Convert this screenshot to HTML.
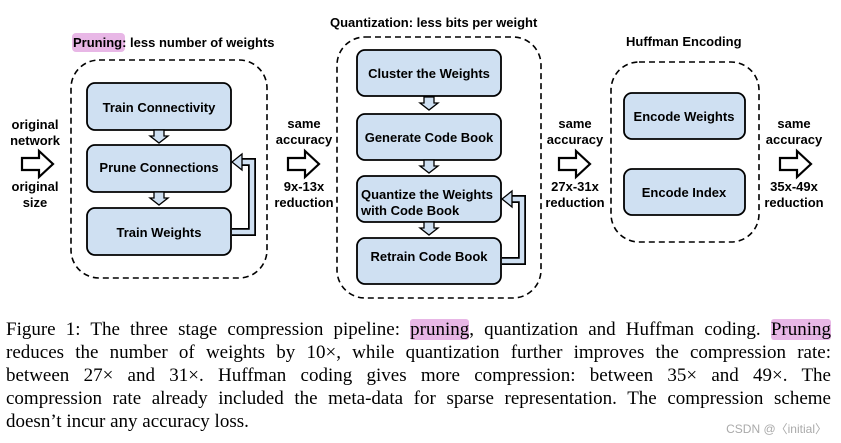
<!DOCTYPE html>
<html><head><style>
body{margin:0;width:841px;height:443px;background:#fff;position:relative;overflow:hidden}
.cap{position:absolute;left:6px;width:825px;font:19px "Liberation Serif",serif;color:#000;text-align:justify;text-align-last:justify;white-space:nowrap;line-height:23px}
.hl{background:#e8b7e6;border-radius:3px}
</style></head><body>
<svg width="841" height="305" style="position:absolute;left:0;top:0" font-family="Liberation Sans, sans-serif" font-weight="bold" font-size="13">
<defs>
<g id="da"><polygon points="-5,0 5,0 5,6 9,6 0,13 -9,6 -5,6" fill="#cfe0f2" stroke="#000" stroke-width="1.3"/></g>
<g id="ba"><polygon points="0,-6 17,-6 17,-13 31,0 17,13 17,6 0,6" fill="#fff" stroke="#000" stroke-width="2.2"/></g>
</defs>
<rect x="71" y="60" width="196" height="218" rx="28" fill="none" stroke="#000" stroke-width="1.6" stroke-dasharray="6,4"/>
<rect x="337" y="37" width="204" height="261" rx="28" fill="none" stroke="#000" stroke-width="1.6" stroke-dasharray="6,4"/>
<rect x="611" y="62" width="148" height="180" rx="28" fill="none" stroke="#000" stroke-width="1.6" stroke-dasharray="6,4"/>
<rect x="72" y="33" width="53" height="19" rx="4" fill="#e8b7e6"/>
<text x="73" y="47">Pruning: less number of weights</text>
<text x="330" y="27">Quantization: less bits per weight</text>
<text x="626" y="46">Huffman Encoding</text>
<g fill="#cfe0f2" stroke="#000" stroke-width="1.8">
<rect x="87" y="83" width="144" height="47" rx="8"/>
<rect x="87" y="145" width="144" height="47" rx="8"/>
<rect x="87" y="208" width="144" height="47" rx="8"/>
<rect x="357" y="50" width="144" height="46" rx="8"/>
<rect x="357" y="114" width="144" height="46" rx="8"/>
<rect x="357" y="176" width="144" height="46" rx="8"/>
<rect x="357" y="238" width="144" height="46" rx="8"/>
<rect x="624" y="93" width="121" height="46" rx="8"/>
<rect x="624" y="169" width="121" height="46" rx="8"/>
</g>
<use href="#da" x="159" y="130"/><use href="#da" x="159" y="192"/>
<use href="#da" x="429" y="97"/><use href="#da" x="429" y="160"/><use href="#da" x="429" y="222"/>
<path d="M232,232 H252 V162 H240" fill="none" stroke="#000" stroke-width="8"/>
<path d="M232,232 H252 V162 H240" fill="none" stroke="#cfe0f2" stroke-width="4.5"/>
<polygon points="232,162 242,154 242,170" fill="#cfe0f2" stroke="#000" stroke-width="1.3"/>
<path d="M502,261 H522 V199 H510" fill="none" stroke="#000" stroke-width="8"/>
<path d="M502,261 H522 V199 H510" fill="none" stroke="#cfe0f2" stroke-width="4.5"/>
<polygon points="502,199 512,191 512,207" fill="#cfe0f2" stroke="#000" stroke-width="1.3"/>
<g text-anchor="middle">
<text x="159" y="112">Train Connectivity</text>
<text x="159" y="172">Prune Connections</text>
<text x="159" y="237">Train Weights</text>
<text x="429" y="78">Cluster the Weights</text>
<text x="429" y="142">Generate Code Book</text>
<text x="429" y="261">Retrain Code Book</text>
<text x="684" y="121">Encode Weights</text>
<text x="684" y="197">Encode Index</text>
<text x="35" y="129">original</text><text x="35" y="145">network</text>
<text x="35" y="191">original</text><text x="35" y="207">size</text>
<text x="304" y="128">same</text><text x="304" y="144">accuracy</text>
<text x="304" y="191">9x-13x</text><text x="304" y="207">reduction</text>
<text x="575" y="128">same</text><text x="575" y="144">accuracy</text>
<text x="575" y="191">27x-31x</text><text x="575" y="207">reduction</text>
<text x="794" y="128">same</text><text x="794" y="144">accuracy</text>
<text x="794" y="191">35x-49x</text><text x="794" y="207">reduction</text>
</g>
<text x="361" y="199">Quantize the Weights</text>
<text x="361" y="215">with Code Book</text>
<use href="#ba" x="22" y="164"/><use href="#ba" x="288" y="164"/>
<use href="#ba" x="559" y="164"/><use href="#ba" x="780" y="164"/>
</svg>
<div class="cap" style="top:318px">Figure 1: The three stage compression pipeline: <span class="hl">pruning</span>, quantization and Huffman coding. <span class="hl">Pruning</span></div>
<div class="cap" style="top:341px">reduces the number of weights by 10×, while quantization further improves the compression rate:</div>
<div class="cap" style="top:364px">between 27× and 31×. Huffman coding gives more compression: between 35× and 49×. The</div>
<div class="cap" style="top:387px">compression rate already included the meta-data for sparse representation. The compression scheme</div>
<div class="cap" style="top:410px;text-align-last:left">doesn’t incur any accuracy loss.</div>
<div style="position:absolute;right:14px;top:420px;font:12px 'Liberation Sans','Noto Sans CJK SC',sans-serif;color:#aaa">CSDN @〈initial〉</div>
</body></html>
